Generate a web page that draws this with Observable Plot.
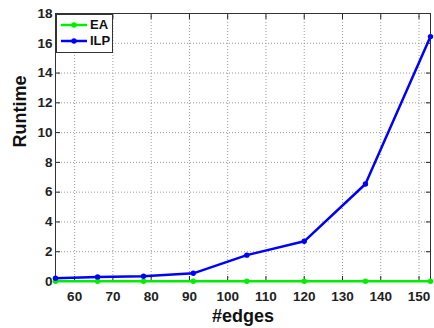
<!DOCTYPE html>
<html><head><meta charset="utf-8">
<script src="https://cdn.jsdelivr.net/npm/d3@7"></script>
<script src="https://cdn.jsdelivr.net/npm/@observablehq/plot@0.6"></script>
<style>
body{margin:0;background:#fff;font-family:"Liberation Sans",Arial,sans-serif;}
#wrap{position:relative;width:434px;height:328px;}
#legend{position:absolute;left:56px;top:14px;width:57px;height:39px;border:1px solid #333;background:#fff;box-sizing:border-box;font-weight:bold;font-size:13px;color:#111;}
.row{position:absolute;left:3px;display:flex;align-items:center;}
.row svg{margin-right:2px;}
#chart svg text{font-weight:bold !important;}
</style></head>
<body><div id="wrap"><div id="chart"></div><div id="legend"></div></div>
<script>
const edges = [55, 66, 78, 91, 105, 120, 136, 153];
const ilp = [0.22, 0.31, 0.35, 0.55, 1.77, 2.7, 6.55, 16.45];
const ea = [0.02, 0.02, 0.02, 0.02, 0.02, 0.02, 0.02, 0.02];
const seriesNames = ["EA", "ILP"];
const colors = ["#00ee00", "#0000ff"];
const xTicks = [60, 70, 80, 90, 100, 110, 120, 130, 140, 150];
const yTicks = [0, 2, 4, 6, 8, 10, 12, 14, 16, 18];

const data = [];
edges.forEach((e, i) => {
  data.push({edges: e, runtime: ea[i], series: "EA"});
  data.push({edges: e, runtime: ilp[i], series: "ILP"});
});

const chart = Plot.plot({
  width: 434, height: 328,
  marginLeft: 55, marginRight: 4, marginTop: 13, marginBottom: 47,
  style: {fontFamily: "Liberation Sans, Arial, sans-serif", fontWeight: "bold", fontSize: "13.5px", color: "#222"},
  x: {domain: [55, 153]},
  y: {domain: [0, 18]},
  color: {domain: seriesNames, range: colors},
  marks: [
    Plot.gridX(xTicks, {stroke: "#999", strokeOpacity: 1, strokeDasharray: "1,2"}),
    Plot.gridY(yTicks, {stroke: "#999", strokeOpacity: 1, strokeDasharray: "1,2"}),
    Plot.axisX(xTicks, {tickSize: -5, tickPadding: 15, label: null, fontSize: 13.5, fontWeight: "bold", fill: "#222"}),
    Plot.axisX(xTicks, {anchor: "top", tickSize: -5, tickFormat: () => "", label: null}),
    Plot.axisY(yTicks, {tickSize: -5, tickPadding: 8, label: null, fontSize: 13.5, fontWeight: "bold", fill: "#222"}),
    Plot.axisY(yTicks, {anchor: "right", tickSize: -5, tickFormat: () => "", label: null}),
    Plot.frame({stroke: "#333"}),
    Plot.line(data, {x: "edges", y: "runtime", stroke: "series", strokeWidth: 2.5, z: "series"}),
    Plot.dot(data, {x: "edges", y: "runtime", fill: "series", r: 2.7}),
    Plot.text(["#edges"], {frameAnchor: "bottom", dy: 40, fontSize: 18, fontWeight: "bold", fill: "#111"}),
    Plot.text(["Runtime"], {frameAnchor: "left", dx: -35, rotate: -90, fontSize: 18, fontWeight: "bold", fill: "#111"})
  ]
});
document.getElementById("chart").appendChild(chart);

const legend = document.getElementById("legend");
seriesNames.forEach((name, i) => {
  const row = document.createElement("div");
  row.className = "row";
  row.style.top = (2 + i * 16) + "px";
  row.innerHTML = `<svg width="28" height="14"><line x1="1" x2="27" y1="7" y2="7" stroke="${colors[i]}" stroke-width="2.5"/><circle cx="14" cy="7" r="2.7" fill="${colors[i]}"/></svg><span>${name}</span>`;
  legend.appendChild(row);
});
</script></body></html>
